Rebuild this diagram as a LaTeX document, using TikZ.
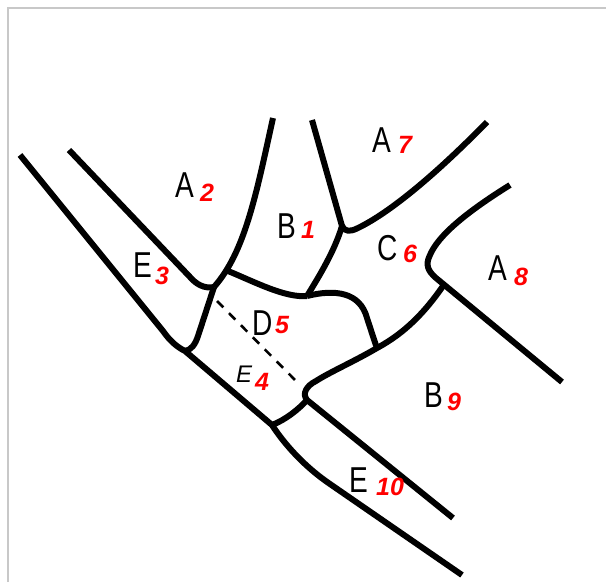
\documentclass[tikz,border=0pt]{standalone}
\usepackage{fontspec}
\setmainfont{Liberation Sans}
\newfontfamily\regionfont[FakeStretch=0.78]{Liberation Sans}
\usepackage{xcolor}
\definecolor{mapred}{RGB}{255,0,0}
\definecolor{framegray}{RGB}{200,200,200}
\usetikzlibrary{positioning}

\begin{document}
\begin{tikzpicture}[x=1pt, y=-1pt,
    frame/.style={draw=framegray, line width=1.5pt},
    edge/.style={draw=black, line width=6pt, line join=round},
    hint/.style={draw=black, line width=2.6pt, dash pattern=on 9pt off 8pt},
    letter/.style={anchor=base west, inner sep=0pt,
                   font=\regionfont\fontsize{36}{40}\selectfont},
    smallletter/.style={anchor=base west, inner sep=0pt,
                        font=\itshape\fontsize{24}{28}\selectfont},
    number/.style={anchor=base west, inner sep=0pt, text=mapred,
                   font=\bfseries\itshape\fontsize{25}{28}\selectfont},
  ]
    \useasboundingbox (0,0) rectangle (606,582);
    \draw[frame] (8,582) -- (8,8) -- (606,8);

    % --- junctions ---
    \coordinate (jA2)  at (214,287);
    \coordinate (jB1)  at (228,271);
    \coordinate (jD5)  at (307,296);
    \coordinate (jA7)  at (342,226);
    \coordinate (jE3)  at (185,351);
    \coordinate (jE4)  at (272,425);
    \coordinate (jE10) at (307,400);
    \coordinate (jB9)  at (377,348);
    \coordinate (jA8)  at (443,286);

    % --- outer and inner shore ---
    \draw[edge] (20,155) -- (163,331) .. controls (170,341) and (177,347) .. (jE3)
      -- (jE4) .. controls (285,445) and (305,467) .. (330,484) -- (462,575);
    \draw[edge] (69,150) -- (190,277) .. controls (196,284) and (204,289) .. (jA2);

    % --- borders round B1 ---
    \draw[edge] (273,118) .. controls (256,195) and (245,252) .. (jA2);
    \draw[edge] (jB1) .. controls (255,282) and (285,298) .. (jD5);
    \draw[edge] (312,120) -- (jA7) .. controls (335,250) and (320,275) .. (jD5);

    % --- E3 / D5 ---
    \draw[edge] (jA2) -- (198,336) .. controls (195,345) and (191,350) .. (jE3);

    % --- A7 / C6 ---
    \draw[edge] (jA7) .. controls (345,232) and (350,232) .. (358,228)
      .. controls (395,210) and (445,165) .. (487,122);

    % --- C6 / A8, A8 / B9 ---
    \draw[edge] (510,185) .. controls (465,213) and (438,236) .. (430,255)
      .. controls (425,265) and (428,271) .. (436,278) -- (562,382);

    % --- D5 / C6 ---
    \draw[edge] (jD5) .. controls (335,289) and (360,292) .. (367,318)
      .. controls (371,330) and (374,340) .. (jB9);

    % --- C6 / B9, D5 / B9, E10 ---
    \draw[edge] (jA8) .. controls (425,312) and (405,333) .. (jB9)
      .. controls (355,361) and (330,372) .. (316,381)
      .. controls (306,386) and (302,394) .. (jE10) -- (453,518);
    \draw[edge] (jE4) .. controls (285,420) and (298,410) .. (jE10);

    % --- D5 / E4 hint ---
    \draw[hint] (217,301) -- (299,384);

    % --- region labels ---
    \node[letter] (lA2) at (175,197) {A};
    \node[number] (nA2) at (200,201) {2};
    \node[letter] (lE3) at (133,277) {E};
    \node[number] (nE3) at (155,284) {3};
    \node[letter] (lB1) at (277,238) {B};
    \node[number] (nB1) at (301,238) {1};
    \node[letter] (lD5) at (252,335) {D};
    \node[number] (nD5) at (275,333) {5};
    \node[smallletter] (lE4) at (236,382) {E};
    \node[number] (nE4) at (255,390) {4};
    \node[letter] (lA7) at (372,152) {A};
    \node[number] (nA7) at (398,153) {7};
    \node[letter] (lC6) at (377,260) {C};
    \node[number] (nC6) at (403,262) {6};
    \node[letter] (lA8) at (488,280) {A};
    \node[number] (nA8) at (514,285) {8};
    \node[letter] (lB9) at (424,407) {B};
    \node[number] (nB9) at (447,410) {9};
    \node[letter] (lE10) at (349,492) {E};
    \node[number] (nE10) at (376,495) {10};
\end{tikzpicture}
\end{document}
